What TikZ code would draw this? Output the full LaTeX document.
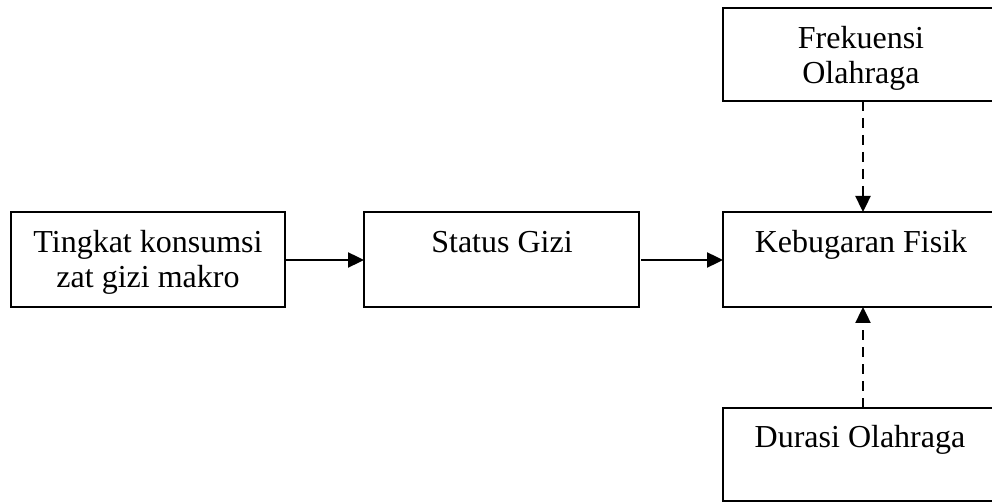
\documentclass[tikz,border=0pt]{standalone}
\usepackage{fontspec}
\setmainfont{Liberation Serif}
\usetikzlibrary{arrows.meta}
\begin{document}
\begin{tikzpicture}[x=0.5pt,y=-0.5pt,
  box/.style={draw=black,line width=1.3pt},
  lbl/.style={anchor=base,inner sep=0pt,font=\fontsize{16}{17.5}\selectfont,align=center},
  arr/.style={line width=1.2pt,-{Triangle[length=8pt,width=7.5pt]}},
  darr/.style={arr,dash pattern=on 5pt off 3.5pt}]
\useasboundingbox (0,0) rectangle (992,502);
% boxes
\draw[box] (11,212) rectangle (285,307);
\draw[box] (364,212) rectangle (639,307);
\draw[box] (723,212) rectangle (1003,307);
\draw[box] (723,8) rectangle (1003,101);
\draw[box] (723,408) rectangle (1003,501);
% named anchor coordinates
\coordinate (a) at (285,260);
\coordinate (b) at (364,260);
\coordinate (c) at (641,260);
\coordinate (d) at (723,260);
\coordinate (ft) at (863,101);
\coordinate (kt) at (863,212);
\coordinate (dt) at (863,408);
\coordinate (kb) at (863,307);
% labels (base = baseline of last line)
\node[lbl] (t1) at (148,288) {Tingkat konsumsi\\zat gizi makro};
\node[lbl] (t2) at (502,253) {Status Gizi};
\node[lbl] (t3) at (861,253) {Kebugaran Fisik};
\node[lbl] (t4) at (861,84) {Frekuensi\\Olahraga};
\node[lbl] (t5) at (860,448) {Durasi Olahraga};
% connectors
\draw[arr] (a) -- (b);
\draw[arr] (c) -- (d);
\draw[darr] (ft) -- (kt);
\draw[darr] (dt) -- (kb);
\end{tikzpicture}
\end{document}
